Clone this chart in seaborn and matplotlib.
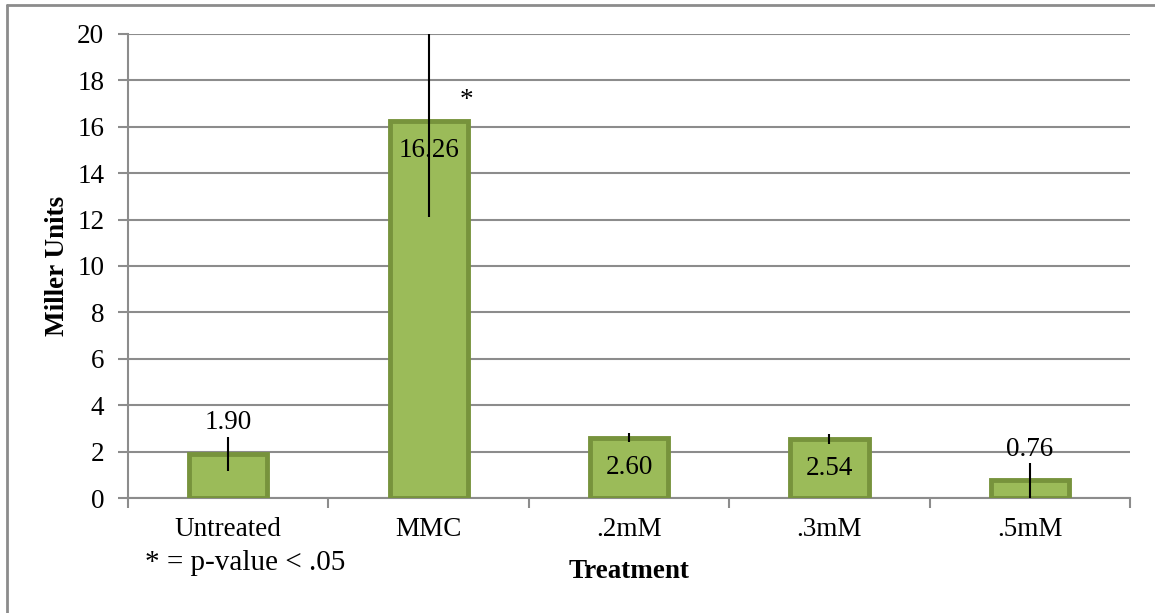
import numpy as np
import pandas as pd
import seaborn as sns
import matplotlib.pyplot as plt
from matplotlib.lines import Line2D

treatments = ["Untreated", "MMC", ".2mM", ".3mM", ".5mM"]
miller_units = [1.90, 16.26, 2.60, 2.54, 0.76]
errors = [0.72, 4.15, 0.20, 0.20, 0.76]
label_inside = [False, True, True, True, False]
significant = [False, True, False, False, False]

df = pd.DataFrame({"Treatment": treatments, "Miller Units": miller_units})

sns.set_style("white")
plt.rcParams["font.family"] = ["Liberation Serif", "DejaVu Serif"]
plt.rcParams["text.color"] = "black"
plt.rcParams["axes.labelcolor"] = "black"
fs = 19.5

fig = plt.figure(figsize=(11.55, 6.13), dpi=100)
ax = fig.add_axes([0.1108, 0.1876, 0.8676, 0.757])

sns.barplot(data=df, x="Treatment", y="Miller Units", color="#9BBB59",
            edgecolor="#77933C", linewidth=3.5, width=0.39, saturation=1,
            errorbar=None, ax=ax, zorder=3)

x = np.arange(len(treatments))
ax.errorbar(x, miller_units, yerr=errors, fmt="none", ecolor="black",
            elinewidth=1.5, capsize=0, zorder=4)

for i, v in enumerate(miller_units):
    if label_inside[i]:
        ax.text(i, v - 1.28, f"{v:.2f}", ha="center", va="center",
                fontsize=fs, zorder=5)
    else:
        ax.text(i, v + 1.35, f"{v:.2f}", ha="center", va="center",
                fontsize=fs, zorder=5)
    if significant[i]:
        ax.text(i + 0.19, 17.15, "*", ha="center", va="center", fontsize=fs)

ax.set_ylim(0, 20)
ax.set_xlim(-0.5, len(treatments) - 0.5)
ax.set_yticks(range(0, 21, 2))
ax.yaxis.grid(True, color="#8C8C8C", linewidth=1.5, zorder=0)
ax.set_axisbelow(True)

for s in ["top", "right"]:
    ax.spines[s].set_visible(False)
for s in ["left", "bottom"]:
    ax.spines[s].set_color("#8C8C8C")
    ax.spines[s].set_linewidth(1.5)

ax.tick_params(axis="y", which="major", length=7, width=1.5, color="#8C8C8C",
               labelcolor="black", labelsize=fs, pad=10, left=True)
ax.tick_params(axis="x", which="major", length=0, labelcolor="black",
               labelsize=fs, pad=14)
ax.set_xticks(np.arange(len(treatments) + 1) - 0.5, minor=True)
ax.tick_params(axis="x", which="minor", length=7, width=1.5, color="#8C8C8C",
               bottom=True)

ax.set_xlabel("Treatment", fontsize=fs, fontweight="bold", labelpad=12)
ax.set_ylabel("Miller Units", fontsize=fs, fontweight="bold", labelpad=5)

fig.text(145 / 1155, 1 - 563 / 613, "* = p-value < .05", fontsize=21,
         ha="left", va="center")

# chart area border (left and top visible)
fig.add_artist(Line2D([7 / 1155, 7 / 1155], [0, 1 - 5 / 613],
                      transform=fig.transFigure, color="#8C8C8C", linewidth=2))
fig.add_artist(Line2D([7 / 1155, 1], [1 - 5 / 613, 1 - 5 / 613],
                      transform=fig.transFigure, color="#8C8C8C", linewidth=2))

fig.savefig("out.png", dpi=100)
